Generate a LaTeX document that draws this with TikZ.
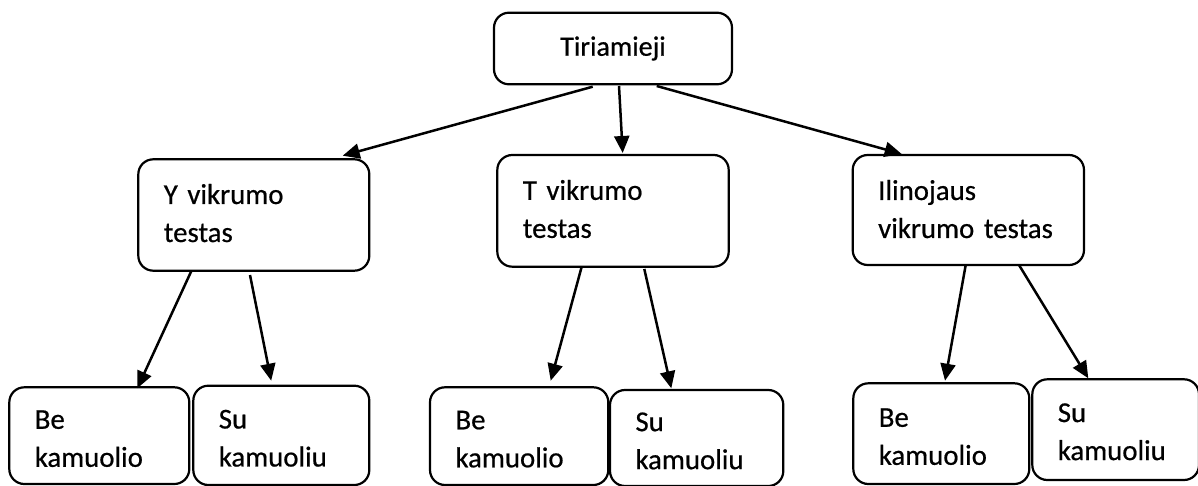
\documentclass[tikz,border=0pt]{standalone}
\usepackage{fontspec}
\setmainfont{Carlito}[FakeBold=0.6]
\usetikzlibrary{arrows.meta}
% invisible struts that nudge the text block inside a box
\newcommand\toppad{\rule{0pt}{24.5pt}}
\newcommand\botpad{\rule[-4pt]{0pt}{0pt}}
\begin{document}
\begin{tikzpicture}[x=1pt,y=-1pt,
  box/.style={draw, line width=2.2pt, rounded corners=15pt, outer sep=0pt,
    inner xsep=25.5pt, inner ysep=0pt, align=left,
    font=\fontsize{28.8}{38}\selectfont},
  link/.style={line width=2.5pt, -{Triangle[length=17pt,width=15pt]}}]
\useasboundingbox (0,0) rectangle (1198,486);

% root
\node[box, align=center, minimum width=238pt, minimum height=71.6pt,
  font=\fontsize{28}{38}\selectfont] (root) at (613,48.5) {Tiriamieji};

% tests
\node[box, text width=180pt, minimum height=111.4pt] (ytest) at (253.8,215) {Y vikrumo\\testas\botpad};
\node[box, text width=180.4pt, minimum height=111.7pt] (ttest) at (613,210.85) {T vikrumo\\testas\botpad};
\node[box, text width=180.3pt, minimum height=110pt] (iltest) at (968.35,210) {Ilinojaus\\vikrumo testas\rule[-2pt]{0pt}{0pt}};

% variants
\node[box, text width=129pt, minimum height=96.7pt] (be1) at (99.3,435.65) {\toppad Be\\kamuolio};
\node[box, text width=125pt, minimum height=99.3pt] (su1) at (281.3,435.35) {\toppad Su\\kamuoliu};
\node[box, text width=127.3pt, minimum height=97.7pt] (be2) at (519.15,436.15) {\toppad Be\\kamuolio};
\node[box, text width=122.3pt, minimum height=96pt] (su2) at (696.65,438) {\toppad Su\\kamuoliu};
\node[box, text width=125pt, minimum height=100.7pt] (be3) at (941.3,433.65) {\toppad Be\\kamuolio};
\node[box, text width=115.7pt, minimum height=100.7pt] (su3) at (1115.65,429.65) {\rule{0pt}{23pt}Su\\kamuoliu};

% connectors
\draw[link] ([xshift=-20.3pt,yshift=-2.4pt]root.south) -- ([xshift=88.9pt,yshift=3.6pt]ytest.north);
\draw[link] ([xshift=6pt,yshift=-1.7pt]root.south) -- ([xshift=9.7pt,yshift=2pt]ttest.north);
\draw[link] ([xshift=43.7pt,yshift=-1.7pt]root.south) -- ([xshift=-66.65pt,yshift=1pt]iltest.north);

\draw[link] ([xshift=-62.3pt]ytest.south) -- ([xshift=38pt,yshift=-1pt]be1.north);
\draw[link] ([xshift=-3.8pt,yshift=-4.3pt]ytest.south) -- ([xshift=-10.1pt,yshift=5pt]su1.north);
\draw[link] ([xshift=-31.3pt]ttest.south) -- ([xshift=31.55pt,yshift=6.6pt]be2.north);
\draw[link] ([xshift=31.3pt,yshift=-2.3pt]ttest.south) -- ([xshift=-25.35pt,yshift=1.7pt]su2.north);
\draw[link] ([xshift=-2.65pt]iltest.south) -- ([xshift=3.7pt,yshift=2.6pt]be3.north);
\draw[link] ([xshift=50.65pt]iltest.south) -- ([xshift=-27.35pt,yshift=1pt]su3.north);
\end{tikzpicture}
\end{document}
